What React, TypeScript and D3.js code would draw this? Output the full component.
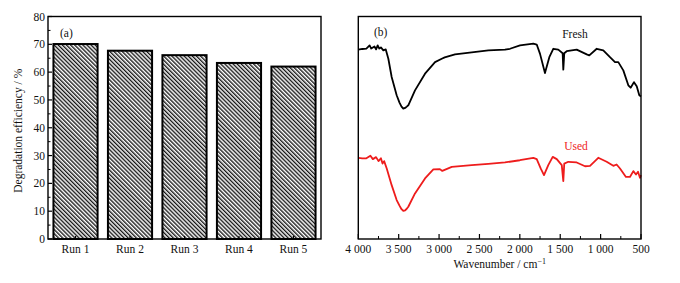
import React from "react";
import * as d3 from "d3";

// ---- Panel (a) data ----
const runs = ["Run 1", "Run 2", "Run 3", "Run 4", "Run 5"];
const efficiency = [70.1, 67.7, 66.1, 63.3, 62.0];
const yTicksA = [0, 10, 20, 30, 40, 50, 60, 70, 80];

// ---- Panel (b) data: FTIR spectra (wavenumber, transmittance a.u.) ----
const freshWavenumber = [4000, 3950, 3900, 3860, 3840, 3800, 3780, 3760, 3740, 3720, 3690, 3660, 3628, 3587, 3525, 3490, 3465, 3443, 3420, 3400, 3381, 3298, 3174, 3050, 2967, 2930, 2803, 2596, 2390, 2184, 2122, 1998, 1833, 1791, 1750, 1689, 1635, 1586, 1524, 1470, 1462, 1450, 1420, 1296, 1172, 1140, 1048, 967, 884, 822, 781, 719, 657, 628, 587, 553, 521, 500];
const freshValue = [85.1, 85.4, 85.6, 87.0, 85.6, 86.5, 85.2, 87.0, 85.6, 86.1, 84.8, 85.2, 81.0, 72.8, 64.6, 61.3, 59.5, 58.6, 58.9, 59.5, 60.1, 66.8, 74.3, 79.5, 81.0, 81.6, 83.0, 83.9, 84.8, 85.1, 85.5, 87.0, 87.8, 87.4, 83.2, 74.6, 81.7, 85.5, 85.1, 83.5, 76.1, 83.5, 84.4, 85.1, 83.0, 82.5, 85.5, 84.8, 81.7, 79.5, 79.5, 75.8, 69.1, 68.0, 70.5, 68.6, 64.6, 64.1];

const usedWavenumber = [4000, 3950, 3900, 3850, 3820, 3780, 3750, 3720, 3700, 3680, 3648, 3587, 3525, 3490, 3465, 3443, 3420, 3400, 3381, 3298, 3174, 3071, 2990, 2960, 2843, 2596, 2390, 2184, 2000, 1833, 1791, 1742, 1701, 1648, 1593, 1543, 1481, 1462, 1450, 1400, 1296, 1193, 1131, 1029, 925, 843, 802, 760, 686, 637, 595, 562, 537, 513, 500];
const usedValue = [36.5, 36.2, 36.3, 37.4, 35.9, 36.8, 35.0, 36.3, 33.9, 35.0, 31.7, 24.2, 17.5, 15.0, 13.4, 12.6, 12.9, 13.6, 14.5, 20.5, 27.2, 31.3, 31.4, 30.6, 32.4, 33.2, 33.8, 34.4, 35.4, 36.5, 35.9, 31.7, 28.7, 33.2, 36.9, 35.9, 33.2, 26.0, 33.9, 34.7, 34.4, 32.7, 32.9, 36.5, 34.7, 32.9, 33.5, 31.7, 27.9, 27.9, 30.5, 29.0, 30.2, 27.5, 28.7];

const wnMajorTicks = [4000, 3500, 3000, 2500, 2000, 1500, 1000, 500];
const wnTickLabels = ["4 000", "3 500", "3 000", "2 500", "2 000", "1 500", "1 000", "500"];
const wnMinorTicks = [3750, 3250, 2750, 2250, 1750, 1250, 750];

const FONT = "'Liberation Serif', 'Times New Roman', serif";

export default function App() {
  // Panel (a) geometry
  const aL = 48, aR = 321, top = 16.5, bottom = 239;
  const x = d3.scaleBand<string>().domain(runs).range([aL, aR]).paddingInner(0.19).paddingOuter(0.1);
  const y = d3.scaleLinear().domain([0, 80]).range([bottom, top]);
  const yMinor = d3.range(5, 80, 10);

  // Panel (b) geometry
  const bL = 358.3, bR = 641;
  const xw = d3.scaleLinear().domain([4000, 500]).range([bL, bR]);
  const yb = d3.scaleLinear().domain([0, 100]).range([bottom, top]);
  const line = d3
    .line<[number, number]>()
    .x((d) => xw(d[0]))
    .y((d) => yb(d[1]))
    .curve(d3.curveLinear);
  const freshPts = freshWavenumber.map((w, i) => [w, freshValue[i]] as [number, number]);
  const usedPts = usedWavenumber.map((w, i) => [w, usedValue[i]] as [number, number]);

  const fs = 11.5;

  return (
    <div style={{ position: "fixed", left: 0, top: 0, width: 680, height: 283, background: "#fff" }}>
      <svg width={680} height={283} style={{ display: "block" }} fontFamily={FONT}>
        <defs>
          <pattern id="hatch" patternUnits="userSpaceOnUse" width={2.9} height={10} patternTransform="rotate(-45)">
            <rect x={0} y={0} width={2.9} height={10} fill="#fff" />
            <line x1={0.7} y1={0} x2={0.7} y2={10} stroke="#111" strokeWidth={1.35} />
          </pattern>
        </defs>

        {/* ---------- Panel (a) ---------- */}
        {runs.map((r, i) => (
          <rect
            key={r}
            x={x(r)}
            y={y(efficiency[i])}
            width={x.bandwidth()}
            height={bottom - y(efficiency[i])}
            fill="url(#hatch)"
            stroke="#000"
            strokeWidth={2}
          />
        ))}
        <rect x={aL} y={top} width={aR - aL} height={bottom - top} fill="none" stroke="#000" strokeWidth={1.4} />
        {yTicksA.map((t) => (
          <g key={t}>
            <line x1={aL} x2={aL + 4} y1={y(t)} y2={y(t)} stroke="#000" strokeWidth={1.2} />
            <text x={aL - 3} y={y(t) + 4} textAnchor="end" fontSize={fs} fill="#111">
              {t}
            </text>
          </g>
        ))}
        {yMinor.map((t) => (
          <line key={t} x1={aL} x2={aL + 2.5} y1={y(t)} y2={y(t)} stroke="#000" strokeWidth={1} />
        ))}
        {runs.map((r) => {
          const cx = (x(r) as number) + x.bandwidth() / 2;
          return (
            <g key={r}>
              <line x1={cx} x2={cx} y1={bottom} y2={bottom - 3} stroke="#000" strokeWidth={1.2} />
              <text x={cx} y={bottom + 14} textAnchor="middle" fontSize={fs} fill="#111">
                {r}
              </text>
            </g>
          );
        })}
        <text
          transform={`translate(22, ${(top + bottom) / 2 + 3}) rotate(-90)`}
          textAnchor="middle"
          fontSize={fs}
          fill="#111"
        >
          Degradation efficiency / %
        </text>
        <text x={60} y={37} fontSize={fs} fill="#111">
          (a)
        </text>

        {/* ---------- Panel (b) ---------- */}
        <path d={line(freshPts) || ""} fill="none" stroke="#000" strokeWidth={1.8} strokeLinejoin="round" />
        <path d={line(usedPts) || ""} fill="none" stroke="#ee1c1c" strokeWidth={1.8} strokeLinejoin="round" />
        <rect x={bL} y={top} width={bR - bL} height={bottom - top} fill="none" stroke="#000" strokeWidth={1.4} />
        {wnMajorTicks.map((t, i) => (
          <g key={t}>
            <line x1={xw(t)} x2={xw(t)} y1={bottom} y2={bottom - 5} stroke="#000" strokeWidth={1.2} />
            <text x={xw(t)} y={bottom + 14} textAnchor="middle" fontSize={fs} fill="#111">
              {wnTickLabels[i]}
            </text>
          </g>
        ))}
        {wnMinorTicks.map((t) => (
          <line key={t} x1={xw(t)} x2={xw(t)} y1={bottom} y2={bottom - 3} stroke="#000" strokeWidth={1} />
        ))}
        <text x={(bL + bR) / 2} y={268} textAnchor="middle" fontSize={fs} fill="#111">
          Wavenumber / cm
          <tspan dy={-4} fontSize={8}>
            −1
          </tspan>
        </text>
        <text x={374} y={36} fontSize={fs} fill="#111">
          (b)
        </text>
        <text x={575} y={38} textAnchor="middle" fontSize={fs} fill="#111">
          Fresh
        </text>
        <text x={576} y={150} textAnchor="middle" fontSize={fs} fill="#ee1c1c">
          Used
        </text>
      </svg>
    </div>
  );
}
